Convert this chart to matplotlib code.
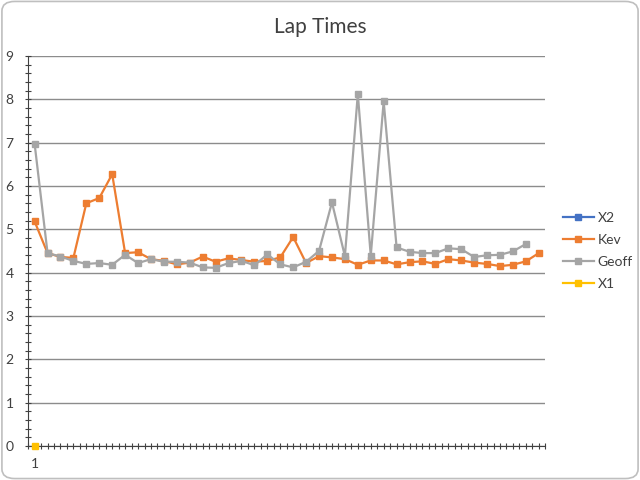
import matplotlib

matplotlib.use("Agg")
import matplotlib.pyplot as plt
from matplotlib.patches import FancyBboxPatch
from matplotlib.ticker import MultipleLocator

plt.rcParams["font.family"] = ["Lato", "DejaVu Sans"]

# lap times
kev = [5.18, 4.45, 4.36, 4.34, 5.60, 5.72, 6.27, 4.45, 4.47, 4.31,
       4.27, 4.19, 4.23, 4.37, 4.25, 4.33, 4.29, 4.25, 4.27, 4.35,
       4.82, 4.22, 4.38, 4.35, 4.31, 4.18, 4.28, 4.28, 4.19, 4.24,
       4.26, 4.20, 4.31, 4.28, 4.23, 4.20, 4.15, 4.18, 4.26, 4.45]
geoff = [6.97, 4.45, 4.37, 4.27, 4.20, 4.22, 4.18, 4.41, 4.22, 4.31,
         4.25, 4.25, 4.23, 4.12, 4.11, 4.22, 4.27, 4.17, 4.42, 4.19,
         4.12, 4.25, 4.50, 5.62, 4.38, 8.12, 4.39, 7.95, 4.58, 4.48,
         4.45, 4.45, 4.56, 4.54, 4.36, 4.40, 4.41, 4.49, 4.66]
x1 = [0.0]
x2 = []
n_laps = 40

fig = plt.figure(figsize=(6.4, 4.8), dpi=100)
border = FancyBboxPatch((0.003, 0.003), 0.994, 0.994, boxstyle="round,pad=0,rounding_size=0.02",
                        transform=fig.transFigure, fill=False, edgecolor="#bfbfbf", lw=1.2)
fig.patches.append(border)

ax = fig.add_axes([0.044, 0.071, 0.808, 0.8125])
mk = dict(marker="s", ms=4.5, lw=1.6)
ax.plot(range(len(x2)), x2, color="#4472C4", label="X2", **mk)
ax.plot(range(len(kev)), kev, color="#ED7D31", label="Kev", **mk)
ax.plot(range(len(geoff)), geoff, color="#A5A5A5", label="Geoff", **mk)
ax.plot(range(len(x1)), x1, color="#FFC000", label="X1", clip_on=False, zorder=5, **mk)

ax.set_xlim(-0.5, n_laps - 0.5)
ax.set_ylim(0, 9)
ax.yaxis.set_major_locator(MultipleLocator(1))
ax.yaxis.set_minor_locator(MultipleLocator(0.2))
ax.set_xticks([i - 0.5 for i in range(n_laps + 1)], labels=[])
ax.set_xticks([float(i) for i in range(n_laps)], minor=True)
ax.set_xticklabels(["1"] + [""] * (n_laps - 1), minor=True)
ax.grid(axis="y", which="major", color="#8c8c8c", lw=1)
ax.set_axisbelow(True)
for s in ("top", "right"):
    ax.spines[s].set_visible(False)
for s in ("left", "bottom"):
    ax.spines[s].set_color("#404040")
ax.tick_params(axis="y", which="both", direction="inout", length=5, width=0.8,
               color="#404040", labelsize=10, labelcolor="#404040", pad=8)
ax.tick_params(axis="x", which="both", direction="inout", length=5, width=0.8,
               color="#404040", labelsize=10, labelcolor="#404040", pad=6)

fig.suptitle("Lap Times", y=0.965, fontsize=15, color="#404040")
ax.legend(loc="center left", bbox_to_anchor=(1.01, 0.5), frameon=False, fontsize=10,
          handlelength=2.2, labelspacing=0.7, handletextpad=0.3, labelcolor="#404040")

fig.savefig("out.png", dpi=100)
